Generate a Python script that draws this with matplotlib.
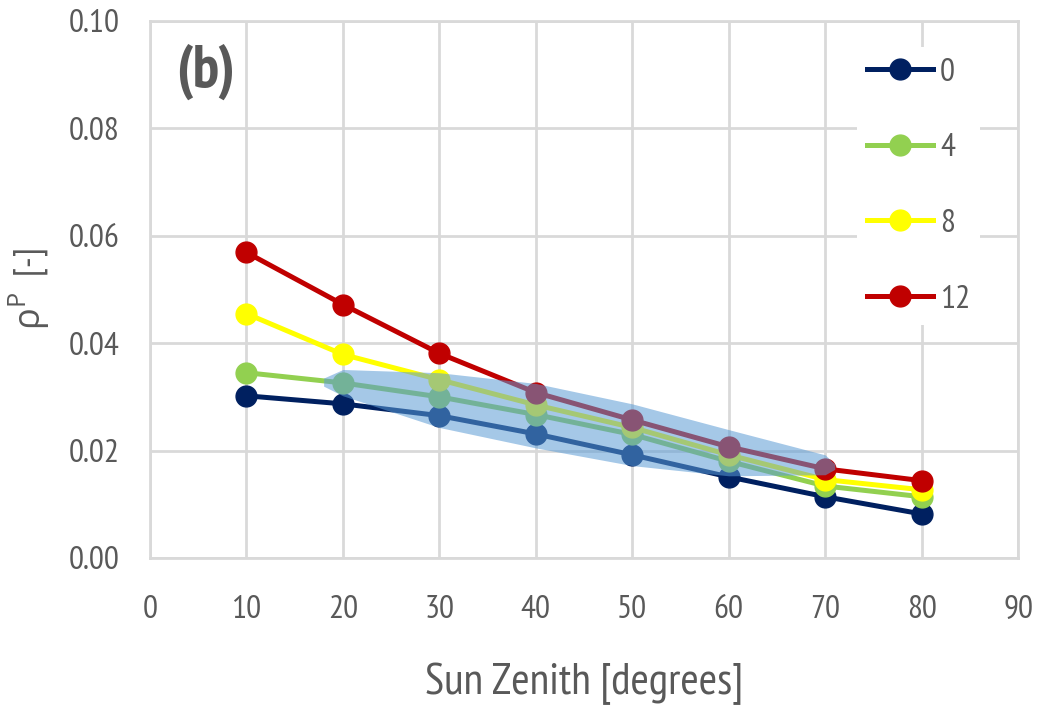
import numpy as np
import matplotlib
matplotlib.use("Agg")
import matplotlib.pyplot as plt

plt.rcParams["font.family"] = ["PT Sans Narrow", "DejaVu Sans"]
plt.rcParams["mathtext.fontset"] = "custom"
plt.rcParams["mathtext.rm"] = "Open Sans"
plt.rcParams["mathtext.it"] = "Open Sans"

zenith = [10, 20, 30, 40, 50, 60, 70, 80]
series_labels = ["0", "4", "8", "12"]
rho_0 = [0.0302, 0.0287, 0.0265, 0.0231, 0.0192, 0.0151, 0.0114, 0.0082]
rho_4 = [0.0345, 0.0326, 0.0300, 0.0267, 0.0230, 0.0180, 0.0134, 0.0114]
rho_8 = [0.0455, 0.0379, 0.0332, 0.0285, 0.0243, 0.0192, 0.0146, 0.0127]
rho_12 = [0.0569, 0.0472, 0.0381, 0.0308, 0.0257, 0.0207, 0.0166, 0.0144]
colors = ["#002060", "#92d050", "#ffff00", "#c00000"]

# highlighted region drawn over the curves
band_x = [18, 20, 30, 40, 50, 60, 70, 71]
band_top = [0.0335, 0.0351, 0.0345, 0.0325, 0.0287, 0.0239, 0.0192, 0.0175]
band_bottom = [0.0320, 0.0302, 0.0243, 0.0205, 0.0172, 0.0153, 0.0155, 0.0165]

grey = "#595959"
grid_c = "#d9d9d9"

fig = plt.figure(figsize=(10.61, 7.07), dpi=100)
ax = fig.add_axes([0.1414, 0.2108, 0.8181, 0.7595])

for vals, c, lab in zip([rho_0, rho_4, rho_8, rho_12], colors, series_labels):
    ax.plot(zenith, vals, color=c, lw=3.6, marker="o", markersize=15,
            markeredgecolor=c, label=lab, zorder=3)

ax.fill_between(band_x, band_bottom, band_top, color="#5b9bd5", alpha=0.55,
                lw=0, zorder=4)

ax.set_xlim(0, 90)
ax.set_ylim(0, 0.10)
ax.set_xticks(np.arange(0, 91, 10))
ax.set_yticks(np.arange(0, 0.101, 0.02))
ax.set_yticklabels(["{:.2f}".format(v) for v in np.arange(0, 0.101, 0.02)])
ax.grid(True, color=grid_c, lw=2)
ax.set_axisbelow(True)
for s in ax.spines.values():
    s.set_color(grid_c)
    s.set_linewidth(2)
ax.tick_params(length=0, labelsize=24, colors=grey)
ax.tick_params(axis="x", pad=27)
ax.tick_params(axis="y", pad=22)

ax.set_xlabel("Sun Zenith [degrees]", fontsize=32, color=grey, labelpad=27)
ax.set_ylabel(r"$\mathrm{\rho}^{\mathrm{P}}$  [-]", fontsize=26, color=grey, labelpad=12)

ax.text(0.03, 0.905, "(b)", transform=ax.transAxes, fontsize=43,
        fontweight="bold", color=grey, va="center", ha="left")

leg = ax.legend(loc="upper left", bbox_to_anchor=(0.795, 0.982), fontsize=24,
                frameon=True, facecolor="white", edgecolor="none", framealpha=1,
                handlelength=2.0, handletextpad=0.2, labelspacing=1.36,
                borderpad=0.3)
for t in leg.get_texts():
    t.set_color(grey)

fig.savefig("out.png", dpi=100)
